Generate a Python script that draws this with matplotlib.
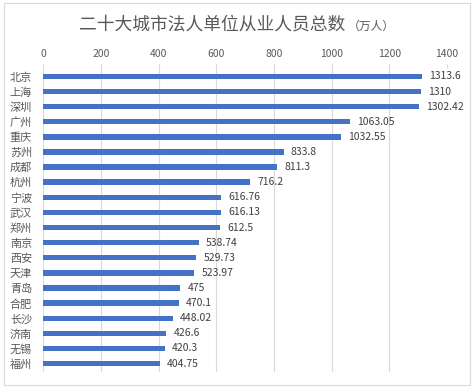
import matplotlib.pyplot as plt
from matplotlib.patches import Rectangle

plt.rcParams['font.family'] = ['Noto Sans CJK SC', 'DejaVu Sans']

cities = ['北京', '上海', '深圳', '广州', '重庆', '苏州', '成都', '杭州', '宁波', '武汉',
          '郑州', '南京', '西安', '天津', '青岛', '合肥', '长沙', '济南', '无锡', '福州']
values = [1313.6, 1310, 1302.42, 1063.05, 1032.55, 833.8, 811.3, 716.2, 616.76, 616.13,
          612.5, 538.74, 529.73, 523.97, 475, 470.1, 448.02, 426.6, 420.3, 404.75]
labels = ['1313.6', '1310', '1302.42', '1063.05', '1032.55', '833.8', '811.3', '716.2', '616.76',
          '616.13', '612.5', '538.74', '529.73', '523.97', '475', '470.1', '448.02', '426.6',
          '420.3', '404.75']
xticks = [0, 200, 400, 600, 800, 1000, 1200, 1400]

fig = plt.figure(figsize=(4.75, 3.89), dpi=100)
ax = fig.add_axes([0.0912, 0.044, 0.850, 0.781])

pos = list(range(len(cities)))
ax.barh(pos, values, height=0.36, color='#4472C4', zorder=3)
for p, v, t in zip(pos, values, labels):
    ax.text(v + 25, p, t, va='center', ha='left', fontsize=7.5, color='#404040')

ax.set_ylim(len(cities) - 0.45, -0.55)
ax.set_xlim(0, 1400)
ax.set_yticks(pos)
ax.set_yticklabels(cities, fontsize=8, color='#595959')
ax.xaxis.tick_top()
ax.set_xticks(xticks)
ax.set_xticklabels([str(x) for x in xticks], fontsize=7.5, color='#595959')
ax.tick_params(axis='x', length=3, color='#d9d9d9', pad=3.5)
ax.tick_params(axis='y', length=0, pad=8)
ax.grid(axis='x', color='#d9d9d9', linewidth=0.8, zorder=0)
for s in ax.spines.values():
    s.set_visible(False)

fig.text(0.727, 0.936, '二十大城市法人单位从业人员总数', fontsize=12.8, color='#595959',
         ha='right', va='center')
fig.text(0.733, 0.932, '（万人）', fontsize=8.5, color='#595959', ha='left', va='center')

fig.patches.append(Rectangle((0.008, 0.01), 0.982, 0.982, transform=fig.transFigure,
                             fill=False, edgecolor='#d9d9d9', linewidth=0.8))

fig.savefig('out.png', dpi=100)
